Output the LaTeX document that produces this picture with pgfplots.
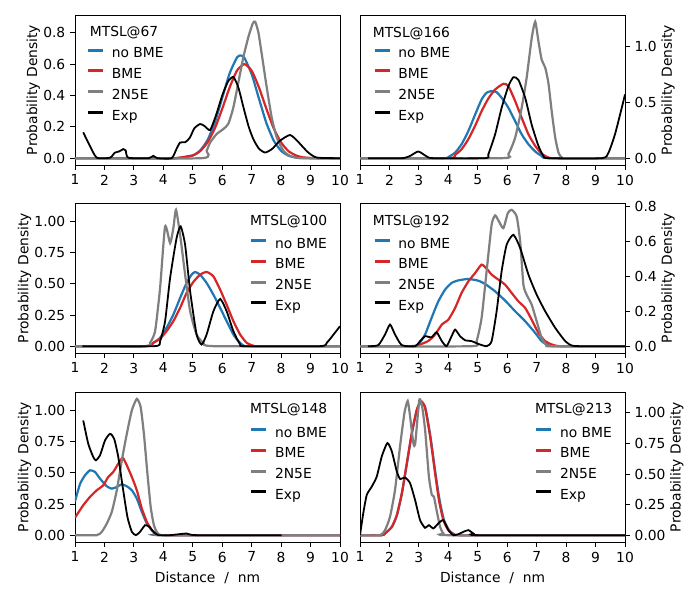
\documentclass[border=0pt]{standalone}
\usepackage{fontspec}
\setmainfont{DejaVu Sans}
\usepackage{pgfplots}
\pgfplotsset{compat=1.18}
\definecolor{tblue}{RGB}{31,119,180}
\definecolor{tred}{RGB}{214,39,40}
\definecolor{tgray}{RGB}{127,127,127}
\pgfplotsset{
  legend image code/.code={\draw[#1, line width=2.2pt] (0pt,2.9pt) -- (10.8pt,2.9pt);},
  panel/.style={
    scale only axis, width=191.52pt, height=108.41pt,
    anchor=north west,
    xmin=1, xmax=10, xtick={1,2,3,4,5,6,7,8,9,10},
    tick align=outside, major tick length=3.5pt,
    xtick pos=left,
    axis line style={line width=0.6pt},
    every tick/.style={black, line width=0.6pt},
    tick label style={font=\fontsize{10}{12}\selectfont},
    label style={font=\fontsize{10}{12}\selectfont},
    ylabel={Probability Density},
    /pgf/number format/assume math mode=true,
    yticklabel style={/pgf/number format/.cd, fixed, fixed zerofill, precision=#1},
    legend cell align=left,
    legend style={draw=none, fill=none, inner sep=0pt, outer sep=0pt, row sep=5.5pt,
      font=\fontsize{10}{12}\selectfont,
      nodes={inner sep=0pt, text height=7.4pt, text depth=2.1pt},
      /tikz/every odd column/.append style={column sep=5.2pt},
      anchor=north west},
  },
  leftp/.style={ytick pos=left, ylabel style={yshift=-4.5pt}},
  rightp/.style={ytick pos=right, yticklabel pos=right, ylabel style={yshift=3.5pt}},
  cb/.style={color=tblue, line width=1.6pt, smooth, tension=0.35, mark=none},
  cr/.style={color=tred, line width=1.6pt, smooth, tension=0.35, mark=none},
  cg/.style={color=tgray, line width=1.6pt, smooth, tension=0.35, mark=none},
  ck/.style={color=black, line width=1.3pt, smooth, tension=0.35, mark=none},
}
\begin{document}
\begin{tikzpicture}
\useasboundingbox (0,0) rectangle (505.89pt,-433.62pt);

% ---------------- MTSL@67
\begin{axis}[panel=1, leftp, at={(54.20pt,-10.84pt)},
  ymin=-0.0435, ymax=0.913, ytick={0,0.2,0.4,0.6,0.8},
  legend style={at={(0.044,0.783)}}]
\addplot[cb] coordinates {(1,0) (4.0,0) (4.5,0.001) (5.0,0.017) (5.25,0.049) (5.5,0.115) (5.75,0.229) (6.0,0.384) (6.25,0.54) (6.5,0.642) (6.62,0.655) (6.75,0.641) (7.0,0.536) (7.25,0.378) (7.5,0.224) (7.75,0.112) (8.0,0.047) (8.25,0.016) (8.5,0.005) (9.0,0) (10,0)};
\addlegendentry{no BME}
\addplot[cr] coordinates {(1,0) (4.25,0) (4.5,0.002) (5.0,0.018) (5.25,0.045) (5.5,0.10) (5.75,0.19) (6.0,0.315) (6.25,0.45) (6.5,0.558) (6.75,0.60) (7.0,0.558) (7.25,0.45) (7.5,0.315) (7.75,0.19) (8.0,0.10) (8.25,0.045) (8.5,0.018) (8.75,0.005) (9.25,0) (10,0)};
\addlegendentry{BME}
\addplot[cg] coordinates {(1,0) (5.30,0) (5.47,0.047) (5.59,0.10) (5.81,0.154) (6.04,0.186) (6.21,0.22) (6.38,0.325) (6.55,0.485) (6.72,0.646) (6.89,0.774) (7.04,0.86) (7.12,0.87) (7.23,0.80) (7.34,0.667) (7.51,0.453) (7.68,0.26) (7.85,0.133) (8.08,0.047) (8.30,0.015) (8.64,0) (10,0)};
\addlegendentry{2N5E}
\addplot[ck] coordinates {(1.28,0.165) (1.50,0.08) (1.74,0.003) (2.19,0.003) (2.35,0.035) (2.5,0.043) (2.64,0.058) (2.72,0.05) (2.81,0.003) (3.5,0) (3.66,0.015) (3.8,0) (4.28,0) (4.45,0.06) (4.57,0.1) (4.74,0.102) (4.9,0.13) (5.05,0.19) (5.25,0.218) (5.4,0.205) (5.59,0.18) (5.8,0.28) (6.0,0.4) (6.2,0.49) (6.38,0.518) (6.55,0.45) (6.72,0.325) (6.9,0.2) (7.06,0.12) (7.25,0.06) (7.46,0.036) (7.7,0.06) (7.95,0.11) (8.3,0.148) (8.55,0.11) (8.9,0.04) (9.21,0.004) (10,0)};
\addlegendentry{Exp}
\node[font=\fontsize{10}{12}\selectfont] at (rel axis cs:0.185,0.881) {MTSL@67};
\end{axis}

% ---------------- MTSL@166
\begin{axis}[panel=1, rightp, at={(260.17pt,-10.84pt)},
  ymin=-0.061, ymax=1.28, ytick={0,0.5,1},
  legend style={at={(0.050,0.783)}}]
\addplot[cb] coordinates {(1,0) (3.8,0) (4.0,0.01) (4.23,0.05) (4.45,0.125) (4.68,0.243) (4.91,0.39) (5.13,0.525) (5.30,0.585) (5.47,0.60) (5.64,0.59) (5.81,0.54) (6.04,0.45) (6.27,0.33) (6.49,0.214) (6.72,0.125) (6.95,0.06) (7.17,0.02) (7.40,0) (10,0)};
\addlegendentry{no BME}
\addplot[cr] coordinates {(1,0) (4.0,0) (4.23,0.03) (4.45,0.08) (4.68,0.17) (4.91,0.29) (5.13,0.42) (5.36,0.534) (5.59,0.614) (5.87,0.665) (6.04,0.644) (6.27,0.51) (6.49,0.362) (6.72,0.214) (6.95,0.11) (7.17,0.04) (7.40,0.006) (7.63,0) (10,0)};
\addlegendentry{BME}
\addplot[cg] coordinates {(1,0) (5.81,0) (6.04,0.036) (6.27,0.184) (6.49,0.45) (6.66,0.72) (6.83,1.07) (6.95,1.22) (7.06,1.045) (7.17,0.88) (7.29,0.81) (7.40,0.67) (7.51,0.42) (7.63,0.184) (7.74,0.05) (7.85,0.006) (8.0,0) (10,0)};
\addlegendentry{2N5E}
\addplot[ck] coordinates {(1.28,0) (2.42,0) (2.70,0.02) (2.98,0.06) (3.27,0.015) (3.49,0) (5.25,0) (5.36,0.036) (5.59,0.214) (5.81,0.45) (6.04,0.644) (6.21,0.724) (6.38,0.70) (6.61,0.54) (6.83,0.30) (7.06,0.11) (7.23,0.02) (7.40,0) (9.21,0) (9.44,0.05) (9.66,0.214) (9.89,0.45) (10.0,0.57)};
\addlegendentry{Exp}
\node[font=\fontsize{10}{12}\selectfont] at (rel axis cs:0.194,0.879) {MTSL@166};
\end{axis}

% ---------------- MTSL@100
\begin{axis}[panel=2, leftp, at={(54.20pt,-146.71pt)},
  ymin=-0.055, ymax=1.148, ytick={0,0.25,0.5,0.75,1},
  legend style={at={(0.660,0.767)}}]
\addplot[cb] coordinates {(1,0) (3.4,0) (3.66,0.027) (3.89,0.067) (4.11,0.147) (4.34,0.253) (4.57,0.387) (4.79,0.507) (4.96,0.573) (5.08,0.595) (5.25,0.573) (5.47,0.507) (5.70,0.413) (5.93,0.307) (6.15,0.2) (6.38,0.093) (6.55,0.04) (6.72,0.005) (6.9,0) (10,0)};
\addlegendentry{no BME}
\addplot[cr] coordinates {(1,0) (3.4,0) (3.66,0.027) (3.89,0.06) (4.11,0.12) (4.34,0.2) (4.57,0.307) (4.79,0.427) (5.02,0.515) (5.25,0.573) (5.47,0.595) (5.70,0.56) (5.93,0.453) (6.15,0.333) (6.38,0.2) (6.61,0.093) (6.83,0.027) (7.06,0.003) (7.2,0) (10,0)};
\addlegendentry{BME}
\addplot[cg] coordinates {(1,0) (3.43,0) (3.55,0.027) (3.72,0.12) (3.89,0.467) (4.06,0.96) (4.23,0.827) (4.34,0.947) (4.43,1.093) (4.57,0.893) (4.74,0.573) (4.91,0.28) (5.13,0.093) (5.36,0.027) (5.7,0) (10,0)};
\addlegendentry{2N5E}
\addplot[ck] coordinates {(1.25,0) (3.7,0) (3.89,0.04) (4.06,0.2) (4.23,0.547) (4.45,0.867) (4.59,0.96) (4.74,0.813) (4.91,0.44) (5.13,0.093) (5.30,0.013) (5.47,0.093) (5.70,0.28) (5.93,0.379) (6.15,0.28) (6.38,0.12) (6.61,0.013) (6.78,0) (9.32,0) (9.55,0.027) (9.78,0.093) (10.0,0.16)};
\addlegendentry{Exp}
\node[font=\fontsize{10}{12}\selectfont] at (rel axis cs:0.806,0.875) {MTSL@100};
\end{axis}

% ---------------- MTSL@192
\begin{axis}[panel=1, rightp, at={(260.17pt,-146.71pt)},
  ymin=-0.039, ymax=0.82, ytick={0,0.2,0.4,0.6,0.8},
  legend style={at={(0.050,0.767)}}]
\addplot[cb] coordinates {(1,0) (2.7,0) (2.98,0.01) (3.21,0.067) (3.43,0.162) (3.66,0.257) (3.89,0.324) (4.11,0.362) (4.34,0.377) (4.68,0.385) (5.02,0.375) (5.25,0.356) (5.59,0.314) (5.93,0.261) (6.27,0.2) (6.61,0.143) (6.95,0.076) (7.17,0.029) (7.40,0.004) (7.63,0) (10,0)};
\addlegendentry{no BME}
\addplot[cr] coordinates {(1,0) (2.8,0) (2.98,0.006) (3.32,0.03) (3.55,0.067) (3.78,0.124) (4.0,0.152) (4.23,0.219) (4.45,0.305) (4.68,0.371) (4.91,0.419) (5.13,0.467) (5.30,0.444) (5.47,0.41) (5.70,0.381) (5.93,0.352) (6.15,0.305) (6.38,0.257) (6.61,0.219) (6.83,0.152) (7.06,0.076) (7.29,0.029) (7.51,0.01) (7.85,0) (10,0)};
\addlegendentry{BME}
\addplot[cg] coordinates {(1,0) (4.79,0) (4.96,0.029) (5.13,0.162) (5.30,0.429) (5.47,0.695) (5.59,0.749) (5.72,0.714) (5.87,0.676) (6.02,0.762) (6.15,0.781) (6.32,0.743) (6.44,0.6) (6.55,0.352) (6.66,0.295) (6.83,0.238) (7.0,0.143) (7.17,0.048) (7.34,0.004) (7.5,0) (10,0)};
\addlegendentry{2N5E}
\addplot[ck] coordinates {(1.28,0) (1.62,0.006) (1.85,0.067) (2.02,0.124) (2.19,0.067) (2.42,0.006) (2.87,0) (3.04,0.029) (3.21,0.057) (3.43,0.051) (3.60,0.08) (3.78,0.029) (3.94,0) (4.11,0.057) (4.23,0.095) (4.40,0.057) (4.57,0.034) (4.79,0.029) (5.02,0.013) (5.30,0) (5.47,0.029) (5.64,0.2) (5.81,0.429) (5.98,0.581) (6.21,0.638) (6.44,0.562) (6.72,0.41) (7.0,0.295) (7.29,0.2) (7.63,0.105) (7.97,0.029) (8.19,0.004) (8.53,0) (10,0)};
\addlegendentry{Exp}
\node[font=\fontsize{10}{12}\selectfont] at (rel axis cs:0.194,0.875) {MTSL@192};
\end{axis}

% ---------------- MTSL@148
\begin{axis}[panel=2, leftp, at={(54.20pt,-283.30pt)},
  ymin=-0.055, ymax=1.148, ytick={0,0.25,0.5,0.75,1},
  xlabel={Distance\ \ /\ \ nm},
  legend style={at={(0.660,0.767)}}]
\addplot[cb] coordinates {(1.0,0.27) (1.17,0.41) (1.34,0.48) (1.51,0.52) (1.68,0.507) (1.85,0.453) (2.08,0.392) (2.25,0.373) (2.42,0.387) (2.59,0.408) (2.76,0.392) (2.93,0.36) (3.10,0.293) (3.27,0.187) (3.44,0.093) (3.61,0.04) (3.78,0.008) (4.0,0) (10,0)};
\addlegendentry{no BME}
\addplot[cr] coordinates {(1.0,0.14) (1.28,0.24) (1.51,0.307) (1.74,0.36) (1.96,0.4) (2.13,0.467) (2.30,0.507) (2.47,0.573) (2.62,0.62) (2.76,0.56) (2.93,0.467) (3.10,0.36) (3.27,0.213) (3.44,0.107) (3.61,0.04) (3.83,0.008) (4.1,0) (10,0)};
\addlegendentry{BME}
\addplot[cg] coordinates {(1,0) (1.74,0) (1.91,0.027) (2.08,0.093) (2.25,0.187) (2.42,0.36) (2.59,0.6) (2.76,0.813) (2.93,1.0) (3.10,1.093) (3.23,1.027) (3.34,0.813) (3.46,0.493) (3.57,0.227) (3.68,0.08) (3.80,0.019) (4.0,0) (10,0)};
\addlegendentry{2N5E}
\addplot[ck] coordinates {(1.28,0.92) (1.45,0.733) (1.62,0.627) (1.71,0.6) (1.85,0.64) (2.02,0.76) (2.19,0.813) (2.33,0.773) (2.47,0.627) (2.62,0.387) (2.78,0.147) (2.93,0.027) (3.07,0) (3.21,0.027) (3.38,0.08) (3.53,0.067) (3.66,0.027) (3.83,0) (4.23,0) (4.79,0.013) (5.13,0) (8.02,0)};
\addlegendentry{Exp}
\node[font=\fontsize{10}{12}\selectfont] at (rel axis cs:0.806,0.88) {MTSL@148};
\end{axis}

% ---------------- MTSL@213
\begin{axis}[panel=2, rightp, at={(260.17pt,-283.30pt)},
  ymin=-0.056, ymax=1.17, ytick={0,0.25,0.5,0.75,1},
  xlabel={Distance\ \ /\ \ nm},
  legend style={at={(0.660,0.767)}}]
\addplot[cb] coordinates {(1,0) (1.74,0) (1.85,0.014) (2.08,0.066) (2.25,0.16) (2.42,0.336) (2.59,0.58) (2.76,0.83) (2.93,1.02) (3.08,1.09) (3.22,1.04) (3.39,0.81) (3.56,0.51) (3.70,0.29) (3.85,0.125) (4.02,0.042) (4.19,0.008) (4.47,0) (10,0)};
\addlegendentry{no BME}
\addplot[cr] coordinates {(1,0) (1.74,0) (1.85,0.014) (2.08,0.068) (2.25,0.164) (2.42,0.342) (2.59,0.589) (2.76,0.836) (2.93,1.027) (3.07,1.096) (3.21,1.041) (3.38,0.808) (3.55,0.507) (3.68,0.288) (3.83,0.123) (4.0,0.041) (4.17,0.008) (4.45,0) (10,0)};
\addlegendentry{BME}
\addplot[cg] coordinates {(1,0) (1.68,0) (1.85,0.041) (2.02,0.151) (2.19,0.37) (2.36,0.726) (2.51,1.0) (2.62,1.096) (2.70,0.973) (2.81,0.753) (2.87,0.74) (2.96,0.973) (3.02,1.11) (3.10,1.068) (3.21,0.863) (3.34,0.479) (3.44,0.329) (3.51,0.315) (3.60,0.205) (3.72,0.068) (3.83,0.014) (4.0,0) (10,0)};
\addlegendentry{2N5E}
\addplot[ck] coordinates {(1.0,0) (1.11,0.178) (1.23,0.329) (1.40,0.397) (1.57,0.479) (1.74,0.644) (1.93,0.753) (2.08,0.685) (2.25,0.52) (2.36,0.46) (2.53,0.471) (2.70,0.425) (2.87,0.288) (3.04,0.123) (3.21,0.06) (3.34,0.082) (3.49,0.055) (3.66,0.096) (3.83,0.123) (4.0,0.041) (4.17,0) (4.34,0.008) (4.51,0.027) (4.68,0.041) (4.85,0.014) (5.02,0) (10,0)};
\addlegendentry{Exp}
\node[font=\fontsize{10}{12}\selectfont] at (rel axis cs:0.806,0.88) {MTSL@213};
\end{axis}
\end{tikzpicture}
\end{document}
